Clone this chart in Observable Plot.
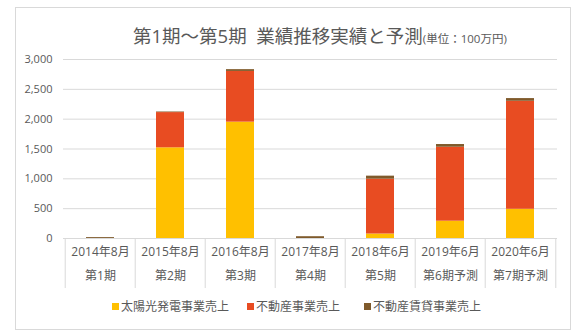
<!DOCTYPE html>
<html><head><meta charset="utf-8">
<script src="https://cdn.jsdelivr.net/npm/d3@7"></script>
<script src="https://cdn.jsdelivr.net/npm/@observablehq/plot@0.6"></script>
<style>
body{margin:0;background:#fff;font-family:"Open Sans","Noto Sans CJK JP",sans-serif;color:#595959}
#wrap{position:relative;width:583px;height:335px;background:#fff;overflow:hidden}
#border{position:absolute;left:15px;top:7px;width:556px;height:323px;border:1px solid #d9d9d9;box-sizing:border-box}
#title{position:absolute;left:133px;top:24px;font-size:18.5px;white-space:nowrap;line-height:24px}
#title small{font-size:11.5px}
#chart{position:absolute;left:0;top:0}
#legend{position:absolute;top:297px;left:0;width:583px;height:20px;font-size:12px}
.item{position:absolute;top:0;line-height:20px;white-space:nowrap}
.sw{display:inline-block;width:7px;height:7px;margin-right:2px;vertical-align:1px}
</style></head>
<body>
<div id="wrap">
<div id="border"></div>
<div id="title">第1期～第5期&nbsp;&nbsp;業績推移実績と予測<small>(単位：100万円)</small></div>
<div id="chart"></div>
<div id="legend"></div>
</div>
<script>
const categories = ["2014年8月","2015年8月","2016年8月","2017年8月","2018年6月","2019年6月","2020年6月"];
const periods = ["第1期","第2期","第3期","第4期","第5期","第6期予測","第7期予測"];
const seriesNames = ["太陽光発電事業売上","不動産事業売上","不動産賃貸事業売上"];
const solar = [0,1520,1950,0,75,290,490];
const realEstate = [0,590,850,0,920,1240,1810];
const rental = [15,10,30,30,50,45,45];
const yTicks = [0,500,1000,1500,2000,2500,3000];
const colors = ["#FFC000","#E84C22","#7F5A2B"];

const seriesValues = [solar, realEstate, rental];
const data = [];
seriesNames.forEach((s, j) => categories.forEach((c, i) => data.push({category: c, series: s, value: seriesValues[j][i]})));

const W = 583, H = 300, ML = 63, MR = 26, MT = 59, MB = 62;
const step = (W - ML - MR) / categories.length;

const chart = Plot.plot({
  width: W, height: H,
  marginLeft: ML, marginRight: MR, marginTop: MT, marginBottom: MB,
  style: {fontFamily: '"Open Sans","Noto Sans CJK JP",sans-serif', color: "#595959", background: "transparent", overflow: "visible"},
  x: {domain: categories, paddingInner: 0.6, paddingOuter: 0.3, axis: null},
  y: {domain: [0, 3000], axis: null, label: null},
  color: {domain: seriesNames, range: colors},
  marks: [
    Plot.gridY(yTicks, {stroke: "#d9d9d9", strokeOpacity: 1}),
    Plot.axisY(yTicks, {tickSize: 0, tickPadding: 11, tickFormat: d3.format(","), fontSize: 11, label: null}),
    Plot.ruleX(categories, {x: d => d, y1: 0, y2: 0, dx: -step / 2, insetTop: 0, insetBottom: -50, stroke: "#d9d9d9"}),
    Plot.ruleX(categories.slice(-1), {x: d => d, y1: 0, y2: 0, dx: step / 2, insetTop: 0, insetBottom: -50, stroke: "#d9d9d9"}),
    Plot.barY(data, {x: "category", y: "value", fill: "series", order: seriesNames}),
    Plot.text(categories, {x: d => d, text: d => d, frameAnchor: "bottom", dy: 17, fontSize: 12, fill: "#595959"}),
    Plot.text(categories, {x: d => d, text: (d, i) => periods[i], frameAnchor: "bottom", dy: 41, fontSize: 12, fill: "#595959"})
  ]
});
document.getElementById("chart").appendChild(chart);

const legendLeft = [112, 247, 364];
const legend = document.getElementById("legend");
seriesNames.forEach((s, i) => {
  const it = document.createElement("div");
  it.className = "item";
  it.style.left = legendLeft[i] + "px";
  it.innerHTML = `<span class="sw" style="background:${colors[i]}"></span>${s}`;
  legend.appendChild(it);
});
</script>
</body></html>
